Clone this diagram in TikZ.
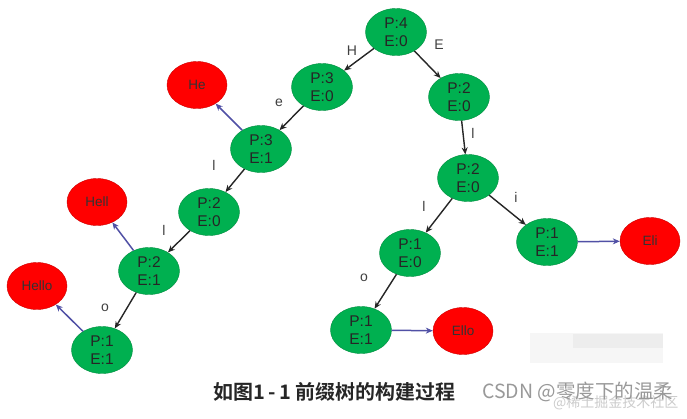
\documentclass[tikz,border=0pt]{standalone}
\usepackage{fontspec}
\setmainfont{Liberation Sans}
\newfontfamily\cjk{Noto Sans CJK SC}
\newfontfamily\cjkb{Noto Sans CJK SC Bold}
\usetikzlibrary{arrows.meta,shapes.geometric}
\definecolor{gfill}{RGB}{0,176,80}
\definecolor{rfill}{RGB}{255,0,0}
\definecolor{bline}{RGB}{80,80,165}
\tikzset{
  gnode/.style={ellipse, fill=gfill, draw=gfill!80!black, line width=0.4pt, minimum width=61pt, minimum height=47pt, inner sep=0pt, align=center, font=\fontsize{15.5}{18}\selectfont, text=black!85},
  rnode/.style={ellipse, fill=rfill, draw=rfill!80!black, line width=0.4pt, minimum width=60pt, minimum height=47pt, inner sep=0pt, font=\fontsize{13.5}{15}\selectfont, text=black!80},
  tedge/.style={draw=black!85, line width=1.4pt, -{Stealth[length=7pt,width=6pt]}},
  bedge/.style={draw=bline, line width=1.5pt, -{Stealth[length=7pt,width=6pt]}},
  elab/.style={font=\fontsize{14}{16}\selectfont, text=black!75},
}
\begin{document}
\begin{tikzpicture}[x=1pt,y=-1pt]
\useasboundingbox (0,0) rectangle (687,418);
\fill[white] (0,0) rectangle (687,418);
% faint blur block
\fill[gray!7] (530,333) rectangle (663,363);
\fill[gray!14] (573,334) rectangle (663,348);
% nodes
\node[gnode] (r) at (396,32) {P:4\\E:0};
\node[gnode] (h) at (322,87) {P:3\\E:0};
\node[gnode] (e) at (459,97) {P:2\\E:0};
\node[rnode] (He) at (197,85) {He};
\node[gnode] (he) at (261,149) {P:3\\E:1};
\node[gnode] (hel) at (209,212) {P:2\\E:0};
\node[rnode] (Hell) at (97,202) {Hell};
\node[gnode] (hell) at (149,271) {P:2\\E:1};
\node[rnode] (Hello) at (37,286) {Hello};
\node[gnode] (hello) at (102,350) {P:1\\E:1};
\node[gnode] (el) at (468,178) {P:2\\E:0};
\node[gnode] (ell) at (410,253) {P:1\\E:0};
\node[gnode] (eli) at (547,242) {P:1\\E:1};
\node[rnode] (Eli) at (650,241) {Eli};
\node[gnode] (ello) at (361,330) {P:1\\E:1};
\node[rnode] (Ello) at (463,331) {Ello};
% tree edges
\draw[tedge] (r) -- (h);
\draw[tedge] (r) -- (e);
\draw[tedge] (h) -- (he);
\draw[tedge] (he) -- (hel);
\draw[tedge] (hel) -- (hell);
\draw[tedge] (hell) -- (hello);
\draw[tedge] (e) -- (el);
\draw[tedge] (el) -- (ell);
\draw[tedge] (el) -- (eli);
\draw[tedge] (ell) -- (ello);
% word edges
\draw[bedge] (he) -- (He);
\draw[bedge] (hell) -- (Hell);
\draw[bedge] (hello) -- (Hello);
\draw[bedge] (eli) -- (Eli);
\draw[bedge] (ello) -- (Ello);
% labels
\node[elab] (lH) at (352,51) {H};
\node[elab] (lE) at (439,45) {E};
\node[elab] (le) at (279,103) {e};
\node[elab] (ll1) at (214,165) {l};
\node[elab] (ll2) at (164,230) {l};
\node[elab] (lo1) at (105,308) {o};
\node[elab] (ll3) at (473,133) {l};
\node[elab] (ll4) at (424,206) {l};
\node[elab] (li) at (516,197) {i};
\node[elab] (lo2) at (364,278) {o};
% caption
\node[anchor=west, inner sep=0pt, font=\cjkb\fontsize{20}{23}\selectfont, text=black!85] (cap) at (213,392) {如图1\,-\,1 前缀树的构建过程};
\node[anchor=west, inner sep=0pt, font=\cjk\fontsize{14}{17}\selectfont, text=gray!40] (wm2) at (553,403) {@稀土掘金技术社区};
\node[anchor=west, inner sep=0pt, font=\cjk\fontsize{19.5}{22}\selectfont, text=gray!80] (wm) at (482,392) {CSDN @零度下的温柔};
\end{tikzpicture}
\end{document}
